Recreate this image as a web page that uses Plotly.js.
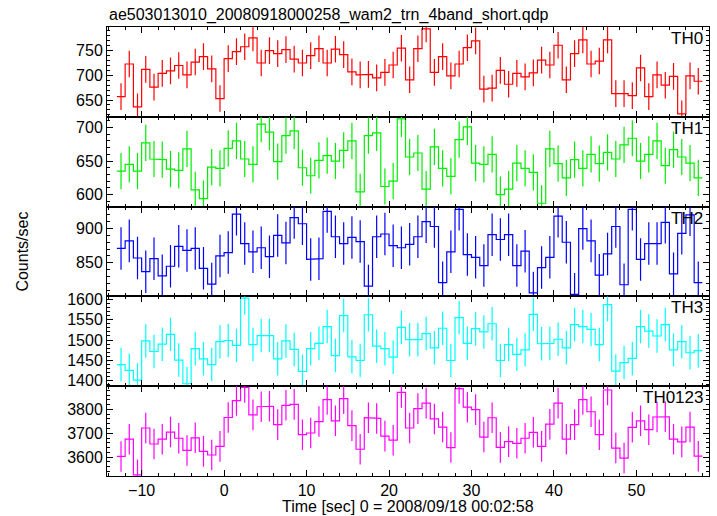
<!DOCTYPE html>
<html>
<head>
<meta charset="utf-8">
<script src="https://cdn.plot.ly/plotly-3.0.1.min.js"></script>
<style>html,body{margin:0;padding:0;background:#fff;}#chart{width:717px;height:516px;}</style>
</head>
<body>
<div id="chart"></div>
<script>
// Bin centres (seconds), bin width 1 s
const time = [-12.5,-11.5,-10.5,-9.5,-8.5,-7.5,-6.5,-5.5,-4.5,-3.5,-2.5,-1.5,-0.5,0.5,1.5,2.5,3.5,4.5,5.5,6.5,7.5,8.5,9.5,10.5,11.5,12.5,13.5,14.5,15.5,16.5,17.5,18.5,19.5,20.5,21.5,22.5,23.5,24.5,25.5,26.5,27.5,28.5,29.5,30.5,31.5,32.5,33.5,34.5,35.5,36.5,37.5,38.5,39.5,40.5,41.5,42.5,43.5,44.5,45.5,46.5,47.5,48.5,49.5,50.5,51.5,52.5,53.5,54.5,55.5,56.5,57.5];
const binWidth = 1;

const th0 = [657,723,636,712,676,704,709,720,701,727,738,713,653,734,748,758,776,725,750,744,752,733,725,740,754,725,753,742,707,701,702,695,706,721,755,691,
             754,794,706,738,699,723,756,770,672,674,710,682,704,697,705,731,721,761,691,744,772,723,729,772,663,663,659,715,657,701,680,698,622,699,688];
const th1 = [635,645,635,677,653,652,638,636,668,607,594,641,639,669,680,653,645,705,693,649,688,695,640,628,651,658,650,666,680,604,688,692,612,620,713,656,
             662,608,671,639,627,682,701,647,645,660,600,608,647,639,633,587,668,646,625,652,639,660,646,663,653,674,684,650,660,680,643,667,656,647,625];
const th2 = [871,882,857,837,856,831,845,874,868,871,842,819,860,865,921,878,866,872,859,890,879,916,907,855,856,925,888,878,887,881,816,888,892,875,872,877,
             888,910,903,821,866,928,862,858,846,891,884,891,846,867,806,843,858,918,880,804,900,882,832,863,903,818,928,855,878,878,909,834,893,920,821];
const th3 = [1440,1426,1402,1498,1472,1490,1514,1451,1393,1479,1454,1440,1496,1499,1487,1603,1489,1511,1511,1454,1498,1477,1423,1479,1492,1533,1462,1560,1459,1450,1562,1485,1479,1458,1531,1501,
             1501,1516,1481,1529,1450,1555,1492,1528,1520,1540,1450,1489,1465,1476,1563,1491,1492,1502,1481,1538,1533,1526,1489,1587,1424,1445,1455,1533,1522,1510,1538,1476,1496,1469,1474];
const th0123 = [3603,3675,3526,3722,3655,3675,3705,3679,3628,3681,3624,3609,3645,3766,3837,3892,3777,3811,3813,3736,3817,3821,3694,3701,3749,3841,3752,3845,3732,3633,3765,3762,3688,3671,3871,3722,
                3803,3826,3760,3726,3640,3887,3809,3799,3684,3765,3641,3665,3658,3679,3704,3645,3738,3826,3675,3736,3841,3790,3694,3881,3638,3596,3725,3752,3715,3768,3769,3675,3664,3726,3604];

const panelNames = ['TH0','TH1','TH2','TH3','TH0123'];
const panelErrors = [27, 27, 31, 41, 64];

const series = [th0, th1, th2, th3, th0123];
const colors = ['#ff0000','#00ee00','#0000ff','#00ffff','#ff00ff'];
const yRanges = [[616,798],[582,716],[801,932],[1387,1607],[3521,3897]];
const yDticks = [50,50,50,50,100];
const yMinor = [10,10,10,10,20];

const FONT = 'Liberation Sans, Arial, Helvetica, sans-serif';
const traces = [];
const layout = {
  width: 717, height: 516,
  margin: {l: 107, r: 8, t: 27, b: 40},
  paper_bgcolor: '#fff', plot_bgcolor: '#fff',
  showlegend: false,
  font: {family: FONT, size: 16, color: '#000'},
  annotations: [],
};

const n = series.length;
for (let p = 0; p < n; p++) {
  const ax = p === 0 ? '' : String(p + 1);
  const xs = [], ys = [];
  const v = series[p];
  for (let i = 0; i < time.length; i++) {
    xs.push(time[i] - binWidth / 2, time[i] + binWidth / 2);
    ys.push(v[i], v[i]);
  }
  traces.push({
    type: 'scatter', mode: 'lines', x: xs, y: ys,
    xaxis: 'x' + ax, yaxis: 'y' + ax,
    line: {color: colors[p], width: 1.2, shape: 'linear'},
    hoverinfo: 'skip'
  });
  traces.push({
    type: 'scatter', mode: 'markers', x: time, y: v,
    xaxis: 'x' + ax, yaxis: 'y' + ax,
    marker: {size: 1, color: 'rgba(0,0,0,0)'},
    error_y: {type: 'constant', value: panelErrors[p], color: colors[p], thickness: 1.2, width: 0},
    hoverinfo: 'skip'
  });
  const top = 1 - p / n, bot = 1 - (p + 1) / n;
  layout['xaxis' + ax] = {
    domain: [0, 1], anchor: 'y' + ax, range: [-14.2, 58.8],
    showticklabels: p === n - 1,
    ticks: 'inside', ticklen: 6, tickwidth: 1, tickcolor: '#000',
    dtick: 10, tick0: 0,
    minor: {ticks: 'inside', ticklen: 3, dtick: 2, tick0: 0, tickcolor: '#000'},
    showline: true, linecolor: '#000', linewidth: 1, mirror: 'allticks',
    showgrid: false, zeroline: false,
    tickfont: {family: FONT, size: 16, color: '#000'}
  };
  layout['yaxis' + ax] = {
    domain: [bot, top], anchor: 'x' + ax, range: yRanges[p],
    ticks: 'inside', ticklen: 6, tickwidth: 1, tickcolor: '#000',
    dtick: yDticks[p], tick0: 0,
    minor: {ticks: 'inside', ticklen: 3, dtick: yMinor[p], tick0: 0, tickcolor: '#000'},
    showline: true, linecolor: '#000', linewidth: 1, mirror: 'allticks',
    showgrid: false, zeroline: false,
    tickfont: {family: FONT, size: 16, color: '#000'}
  };
  layout.annotations.push({
    text: panelNames[p], xref: 'x' + ax + ' domain', yref: 'y' + ax + ' domain',
    x: 1, y: 1, xanchor: 'right', yanchor: 'top', xshift: -4, yshift: 0,
    showarrow: false, font: {family: FONT, size: 17, color: '#000'}
  });
}

layout.annotations.push({
  text: 'ae503013010_20080918000258_wam2_trn_4band_short.qdp',
  xref: 'paper', yref: 'paper', x: 0, y: 1.027, xanchor: 'left', yanchor: 'middle',
  showarrow: false, font: {family: FONT, size: 16, color: '#000'}
});
layout.annotations.push({
  text: 'Time [sec] 0 = 2008/09/18 00:02:58',
  xref: 'paper', yref: 'paper', x: 0.5, y: -0.069, xanchor: 'center', yanchor: 'middle',
  showarrow: false, font: {family: FONT, size: 16, color: '#000'}
});
layout.annotations.push({
  text: 'Counts/sec', textangle: -90,
  xref: 'paper', yref: 'paper', x: -0.141, y: 0.5, xanchor: 'center', yanchor: 'middle',
  showarrow: false, font: {family: FONT, size: 16, color: '#000'}
});

Plotly.newPlot('chart', traces, layout, {displayModeBar: false, staticPlot: true});
</script>
</body>
</html>
